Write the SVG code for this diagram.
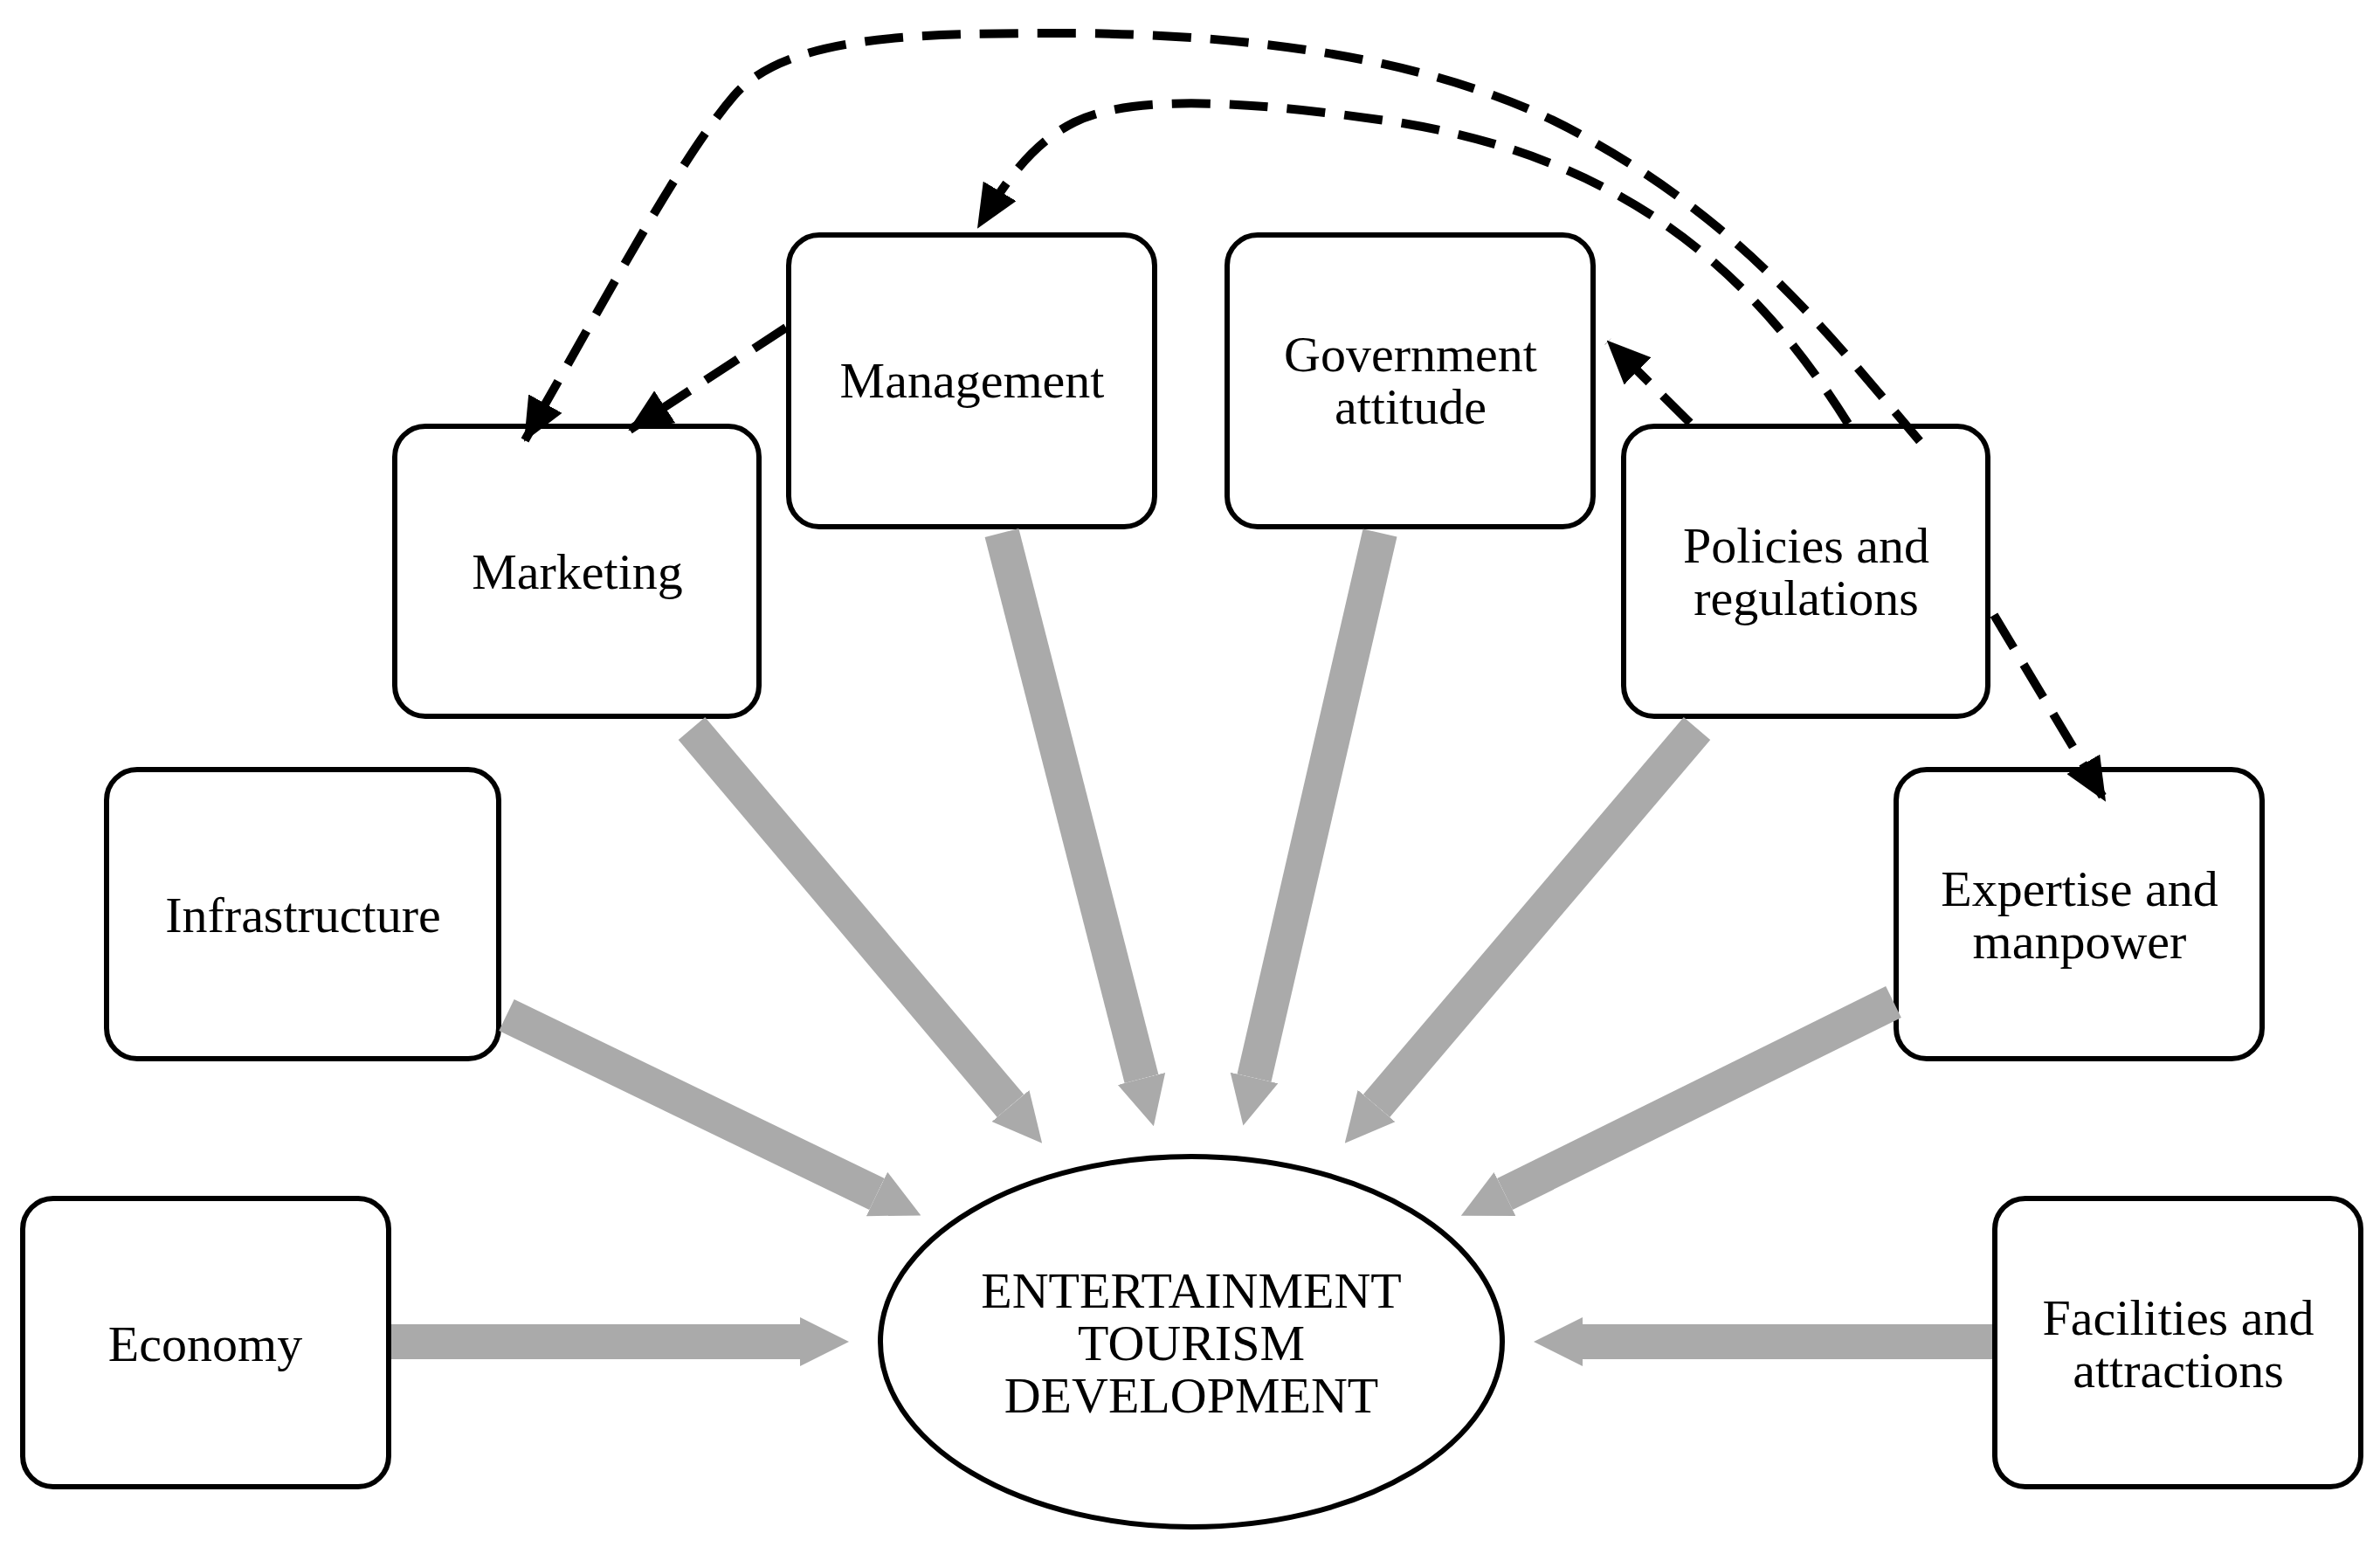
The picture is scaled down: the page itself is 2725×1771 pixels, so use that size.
<svg xmlns="http://www.w3.org/2000/svg" width="2725" height="1771" viewBox="0 0 2725 1771">
<defs>
<marker id="g" viewBox="0 0 10 10" refX="0" refY="5" markerWidth="1.4" markerHeight="1.85" orient="auto"><path d="M0,0 L10,5 L0,10 z" fill="#aaaaaa"/></marker>
<marker id="d" markerUnits="userSpaceOnUse" viewBox="0 0 50 44" refX="48" refY="22" markerWidth="50" markerHeight="44" orient="auto"><path d="M0,0 L50,22 L0,44 z" fill="#000"/></marker>
</defs>
<style>
.box{fill:#fff;stroke:#000;stroke-width:6}
.t{font-family:"Liberation Serif",serif;font-size:58px;text-anchor:middle;fill:#000}
.ga{stroke:#aaaaaa;stroke-width:40;fill:none;marker-end:url(#g)}
.da{stroke:#000;stroke-width:10;fill:none;stroke-dasharray:44 22;marker-end:url(#d)}
</style>
<rect width="2725" height="1771" fill="#fff"/>
<g id="economy"><rect class="box" x="26" y="1372" width="419" height="330" rx="35"/><text class="t" x="235" y="1558">Economy</text></g>
<g id="infrastructure"><rect class="box" x="122" y="881" width="449" height="331" rx="35"/><text class="t" x="347" y="1067">Infrastructure</text></g>
<g id="marketing"><rect class="box" x="452" y="488" width="417" height="332" rx="35"/><text class="t" x="661" y="674">Marketing</text></g>
<g id="management"><rect class="box" x="903" y="269" width="419" height="334" rx="35"/><text class="t" x="1113" y="455">Management</text></g>
<g id="government"><rect class="box" x="1405" y="269" width="419" height="334" rx="35"/><text class="t" x="1615" y="425">Government</text><text class="t" x="1615" y="485">attitude</text></g>
<g id="policies"><rect class="box" x="1859" y="488" width="417" height="332" rx="35"/><text class="t" x="2068" y="644">Policies and</text><text class="t" x="2068" y="704">regulations</text></g>
<g id="expertise"><rect class="box" x="2171" y="881" width="419" height="331" rx="35"/><text class="t" x="2381" y="1037">Expertise and</text><text class="t" x="2381" y="1097">manpower</text></g>
<g id="facilities"><rect class="box" x="2284" y="1372" width="419" height="330" rx="35"/><text class="t" x="2494" y="1528">Facilities and</text><text class="t" x="2494" y="1588">attractions</text></g>
<g id="center"><ellipse class="box" cx="1364" cy="1536" rx="356" ry="212"/><text class="t" x="1364" y="1497">ENTERTAINMENT</text><text class="t" x="1364" y="1557">TOURISM</text><text class="t" x="1364" y="1617">DEVELOPMENT</text></g>
<g id="connectors">
<line class="ga" x1="448" y1="1536" x2="916" y2="1536"/>
<line class="ga" x1="580" y1="1162" x2="1004" y2="1367"/>
<line class="ga" x1="792" y1="834" x2="1157" y2="1266"/>
<line class="ga" x1="1147" y1="610" x2="1307" y2="1235"/>
<line class="ga" x1="1580" y1="610" x2="1436" y2="1234"/>
<line class="ga" x1="1943" y1="834" x2="1576" y2="1266"/>
<line class="ga" x1="2168" y1="1147" x2="1723" y2="1367"/>
<line class="ga" x1="2281" y1="1536" x2="1812" y2="1536"/>
<line class="da" x1="900" y1="375" x2="721" y2="492"/>
<line class="da" x1="1935" y1="484" x2="1841" y2="391"/>
<path class="da" d="M2116,485 C2000,300 1850,180 1600,140 C1450,118 1300,105 1230,140 C1180,165 1150,210 1120,260"/>
<path class="da" style="marker-end:none" d="M2198,505 C2100,390 2000,260 1820,160 C1650,60 1400,38 1216,38 C1050,38 900,40 840,110 C780,180 700,330 620,470"/>
<line class="da" x1="620" y1="470" x2="601" y2="504"/>
<line class="da" x1="2283" y1="704" x2="2410" y2="916"/>
</g>
</svg>
